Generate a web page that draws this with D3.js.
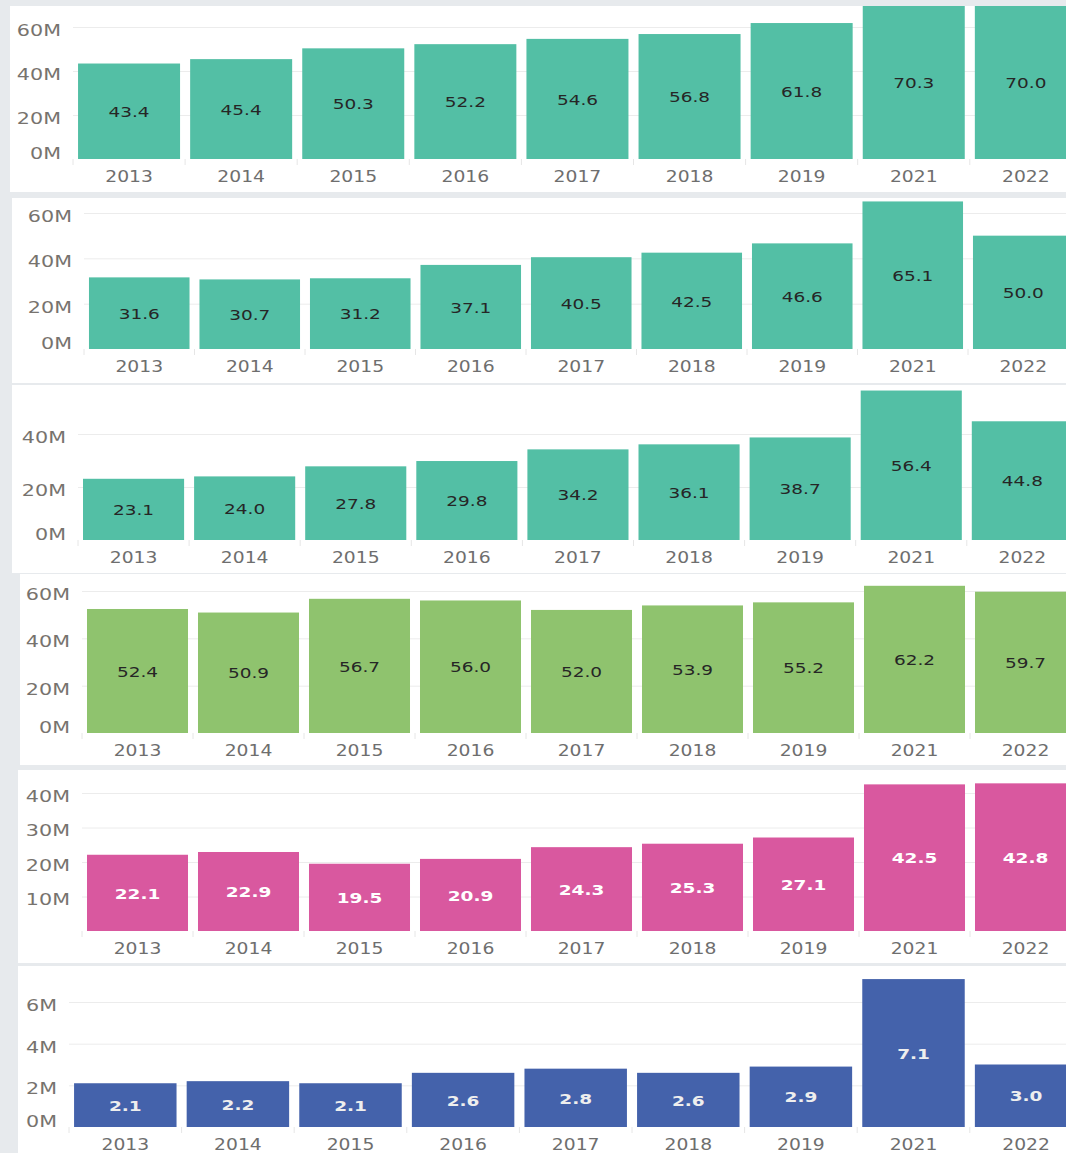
<!DOCTYPE html>
<html>
<head>
<meta charset="utf-8">
<script src="https://cdn.jsdelivr.net/npm/d3@7.9.0/dist/d3.min.js"></script>
<style>
  html, body { margin: 0; padding: 0; background: #e7eaed; }
  svg { display: block; }
  text { font-family: "DejaVu Sans", Verdana, sans-serif; }
</style>
</head>
<body>
<div id="chart"></div>
<script>
// categories
const years = ['2013', '2014', '2015', '2016', '2017', '2018', '2019', '2021', '2022'];

// series values (millions)
const seriesA = [43.4, 45.4, 50.3, 52.2, 54.6, 56.8, 61.8, 70.3, 70.0];
const seriesB = [31.6, 30.7, 31.2, 37.1, 40.5, 42.5, 46.6, 65.1, 50.0];
const seriesC = [23.1, 24.0, 27.8, 29.8, 34.2, 36.1, 38.7, 56.4, 44.8];
const seriesD = [52.4, 50.9, 56.7, 56.0, 52.0, 53.9, 55.2, 62.2, 59.7];
const seriesE = [22.1, 22.9, 19.5, 20.9, 24.3, 25.3, 27.1, 42.5, 42.8];
const seriesF = [2.1, 2.2, 2.1, 2.6, 2.8, 2.6, 2.9, 7.1, 3.0];

// y tick labels
const ticksA = [0, 20, 40, 60];
const ticksB = [0, 20, 40, 60];
const ticksC = [0, 20, 40];
const ticksD = [0, 20, 40, 60];
const ticksE = [10, 20, 30, 40];
const ticksF = [0, 2, 4, 6];

// panel layout (card box, plot left, band step, baseline, top tick pixel)
const panels = [
  { values: seriesA, ticks: ticksA, max: 60, card: [10, 6, 1056, 186], x0: 73, step: 112.1, base: 159, top: 27, fill: '#53bfa5', ink: '#262626', weight: 400 },
  { values: seriesB, ticks: ticksB, max: 60, card: [12, 198, 1054, 185], x0: 84, step: 110.5, base: 349, top: 213, fill: '#53bfa5', ink: '#262626', weight: 400 },
  { values: seriesC, ticks: ticksC, max: 40, card: [12, 385, 1054, 188], x0: 78, step: 111.1, base: 540, top: 434, fill: '#53bfa5', ink: '#262626', weight: 400 },
  { values: seriesD, ticks: ticksD, max: 60, card: [20, 574, 1046, 191], x0: 82, step: 111, base: 733, top: 591, fill: '#8fc36e', ink: '#262626', weight: 400 },
  { values: seriesE, ticks: ticksE, max: 40, card: [18, 770, 1048, 193], x0: 82, step: 111, base: 931, top: 793, fill: '#d9589f', ink: '#ffffff', weight: 600 },
  { values: seriesF, ticks: ticksF, max: 6, card: [18, 966, 1048, 187], x0: 69, step: 112.6, base: 1127, top: 1002, fill: '#4462ab', ink: '#eeeeee', weight: 600 }
];

const W = 1066, H = 1153;

const svg = d3.select('#chart').append('svg')
  .attr('width', W)
  .attr('height', H);

svg.append('rect')
  .attr('width', W)
  .attr('height', H)
  .attr('fill', '#e7eaed');

const defs = svg.append('defs');

panels.forEach((p, i) => {
  const [cx, cy, cw, ch] = p.card;

  defs.append('clipPath').attr('id', 'clip' + i)
    .append('rect')
    .attr('x', cx).attr('y', cy).attr('width', cw).attr('height', ch);

  const g = svg.append('g').attr('clip-path', `url(#clip${i})`);

  g.append('rect')
    .attr('x', cx).attr('y', cy)
    .attr('width', cw).attr('height', ch)
    .attr('fill', '#ffffff');

  const x = d3.scaleBand()
    .domain(years)
    .range([p.x0, p.x0 + p.step * years.length])
    .paddingInner(0.09)
    .paddingOuter(0.045);

  const y = d3.scaleLinear()
    .domain([0, p.max])
    .range([p.base, p.top]);

  // gridlines
  const grid = g.append('g')
    .attr('transform', `translate(${p.x0},0)`)
    .call(d3.axisLeft(y).tickValues(p.ticks.filter(t => t > 0)).tickSize(-(W - p.x0)).tickFormat(''));
  grid.select('.domain').remove();
  grid.selectAll('line').attr('stroke', '#ececec');

  // y labels
  const yAxis = g.append('g')
    .attr('transform', `translate(${p.x0 - 12},0)`)
    .call(d3.axisLeft(y).tickValues(p.ticks).tickSize(0).tickPadding(0).tickFormat(d => d + 'M'));
  yAxis.select('.domain').remove();
  yAxis.selectAll('text')
    .attr('x', null).attr('dy', null)
    .attr('font-size', 15)
    .attr('font-family', '"DejaVu Sans", sans-serif')
    .attr('fill', '#77736e')
    .attr('dominant-baseline', 'central')
    .attr('transform', d => `translate(0,${d === 0 ? -6 : 3}) scale(1.38,1)`);

  // small separators under the baseline
  const half = (x.step() - x.bandwidth()) / 2;
  g.append('g').selectAll('line')
    .data(years)
    .join('line')
    .attr('x1', d => x(d) - half).attr('x2', d => x(d) - half)
    .attr('y1', p.base).attr('y2', p.base + 6)
    .attr('stroke', '#e6e6e6');

  // x labels
  const xAxis = g.append('g')
    .attr('transform', `translate(0,${p.base})`)
    .call(d3.axisBottom(x).tickSize(0).tickPadding(0));
  xAxis.select('.domain').remove();
  xAxis.selectAll('text')
    .attr('y', null).attr('dy', null)
    .attr('font-size', 15)
    .attr('font-family', '"DejaVu Sans", sans-serif')
    .attr('fill', '#6e6e6e')
    .attr('dominant-baseline', 'central')
    .attr('transform', 'translate(0,18) scale(1.25,1)');

  const data = years.map((yr, k) => ({ year: yr, value: p.values[k] }));

  // bars
  g.append('g').selectAll('rect')
    .data(data)
    .join('rect')
    .attr('x', d => x(d.year))
    .attr('y', d => y(d.value))
    .attr('width', x.bandwidth())
    .attr('height', d => p.base - y(d.value))
    .attr('fill', p.fill);

  // value labels, centred on the visible part of each bar
  g.append('g').selectAll('text')
    .data(data)
    .join('text')
    .attr('text-anchor', 'middle')
    .attr('dominant-baseline', 'central')
    .attr('font-size', 14)
    .attr('font-weight', p.weight)
    .attr('fill', p.ink)
    .attr('transform', d => {
      const cxp = x(d.year) + x.bandwidth() / 2;
      const cyp = (Math.max(y(d.value), cy) + p.base) / 2 + 1;
      return `translate(${cxp},${cyp}) scale(1.32,1)`;
    })
    .text(d => d.value.toFixed(1));
});
</script>
</body>
</html>
